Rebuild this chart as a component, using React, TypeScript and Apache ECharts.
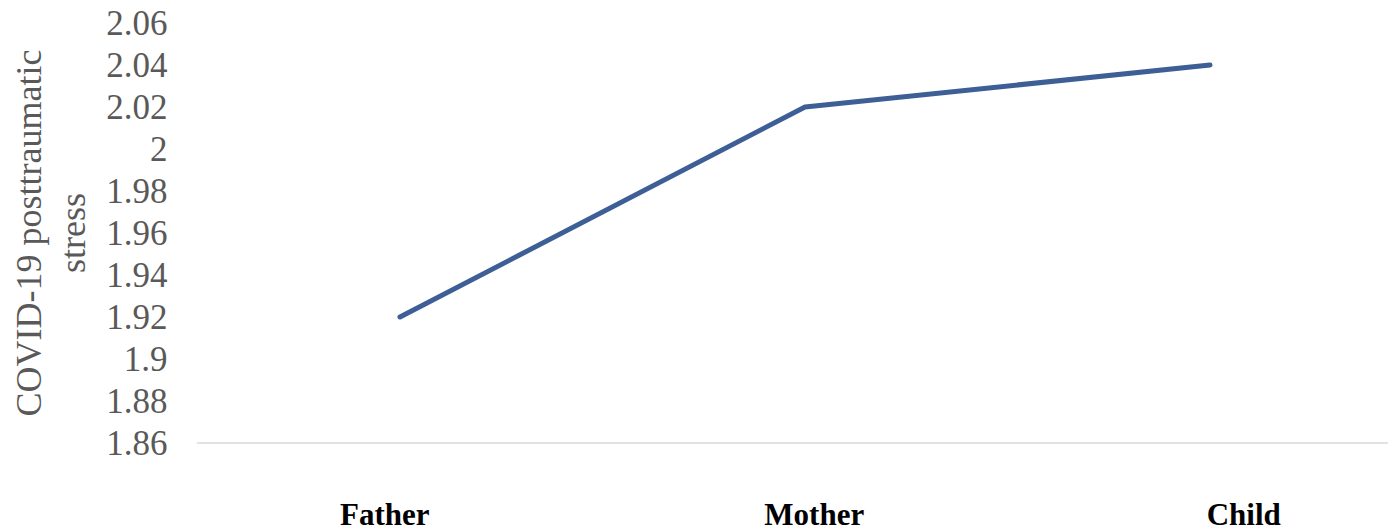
import React, { useEffect, useRef } from "react";
import * as echarts from "echarts";

const categories = ["Father", "Mother", "Child"];
const stressValues = [1.92, 2.02, 2.04];
const yMin = 1.86;
const yMax = 2.06;
const yInterval = 0.02;
const yAxisTitle = "COVID-19 posttraumatic\nstress";

export default function App() {
  const ref = useRef<HTMLDivElement>(null);
  useEffect(() => {
    if (!ref.current) return;
    const chart = echarts.init(ref.current, null, { renderer: "svg" });
    const serif = "'Liberation Serif', 'Times New Roman', serif";
    chart.setOption({
      animation: false,
      backgroundColor: "#ffffff",
      grid: [
        { left: 197.5, right: -24.5, top: 23, bottom: 88, containLabel: false, outerBoundsMode: "none" },
        { left: 170, right: -70.5, top: 23, bottom: 88, containLabel: false, outerBoundsMode: "none" },
      ],
      xAxis: [
        {
          type: "category",
          gridIndex: 0,
          data: categories,
          boundaryGap: true,
          axisLine: { show: true, lineStyle: { color: "#d9d9d9", width: 1.5 } },
          axisTick: { show: false },
          axisLabel: { show: false },
          splitLine: { show: false },
        },
        {
          type: "category",
          gridIndex: 1,
          data: categories,
          boundaryGap: true,
          axisLine: { show: false },
          axisTick: { show: false },
          axisLabel: {
            show: true,
            margin: 56,
            color: "#000000",
            fontFamily: serif,
            fontWeight: "bold",
            fontSize: 31,
            lineHeight: 31,
          },
          splitLine: { show: false },
        },
      ],
      yAxis: [
        {
          type: "value",
          gridIndex: 0,
          min: yMin,
          max: yMax,
          interval: yInterval,
          axisLine: { show: false },
          axisTick: { show: false },
          splitLine: { show: false },
          axisLabel: {
            margin: 30,
            color: "#595959",
            fontFamily: serif,
            fontSize: 35,
            formatter: (v: number) => String(parseFloat(v.toFixed(2))),
          },
          name: yAxisTitle,
          nameLocation: "middle",
          nameRotate: 90,
          nameGap: 102,
          nameTextStyle: {
            color: "#595959",
            fontFamily: serif,
            fontSize: 36,
            lineHeight: 44,
            align: "center",
          },
        },
        {
          type: "value",
          gridIndex: 1,
          min: yMin,
          max: yMax,
          interval: yInterval,
          show: false,
        },
      ],
      series: [
        {
          type: "line",
          xAxisIndex: 0,
          yAxisIndex: 0,
          data: stressValues,
          showSymbol: false,
          symbol: "none",
          lineStyle: { color: "#3d5f96", width: 5, cap: "round", join: "round" },
        },
      ],
    });
    return () => chart.dispose();
  }, []);
  return (
    <div
      ref={ref}
      style={{ position: "fixed", left: 0, top: 0, width: 1388, height: 531 }}
    />
  );
}
